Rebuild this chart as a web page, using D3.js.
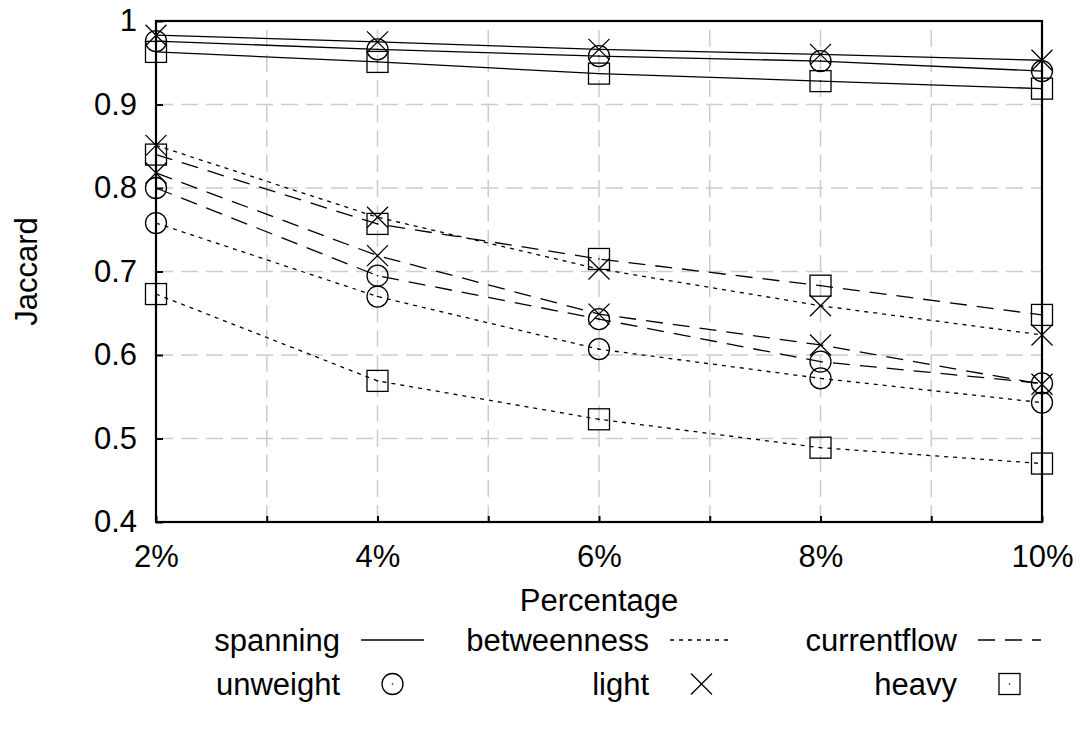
<!DOCTYPE html>
<html>
<head>
<meta charset="utf-8">
<script src="https://cdn.jsdelivr.net/npm/d3@7"></script>
<style>
  html, body { margin: 0; padding: 0; background: #fff; }
  svg { display: block; }
  text { font-family: "Liberation Sans", Arial, Helvetica, sans-serif; fill: #000; }
</style>
</head>
<body>
<svg id="chart" width="1081" height="738"></svg>
<script>
// ---- data ----
const percentages = [2, 4, 6, 8, 10];
const xTickValues = [2, 3, 4, 5, 6, 7, 8, 9, 10];
const yTickValues = [0.4, 0.5, 0.6, 0.7, 0.8, 0.9, 1.0];
const yTickLabels = ["0.4", "0.5", "0.6", "0.7", "0.8", "0.9", "1"];

const spanningUnweight = [0.976, 0.966, 0.958, 0.952, 0.940];
const spanningLight    = [0.983, 0.975, 0.966, 0.960, 0.953];
const spanningHeavy    = [0.963, 0.951, 0.937, 0.928, 0.919];

const betweennessUnweight = [0.758, 0.670, 0.607, 0.572, 0.543];
const betweennessLight    = [0.851, 0.765, 0.703, 0.659, 0.624];
const betweennessHeavy    = [0.673, 0.569, 0.523, 0.489, 0.470];

const currentflowUnweight = [0.800, 0.695, 0.643, 0.592, 0.566];
const currentflowLight    = [0.818, 0.719, 0.649, 0.612, 0.565];
const currentflowHeavy    = [0.840, 0.757, 0.715, 0.683, 0.648];

const methodNames = ["spanning", "betweenness", "currentflow"];
const weightNames = ["unweight", "light", "heavy"];

const series = [
  { method: "spanning", weight: "unweight", values: spanningUnweight },
  { method: "spanning", weight: "light", values: spanningLight },
  { method: "spanning", weight: "heavy", values: spanningHeavy },
  { method: "betweenness", weight: "unweight", values: betweennessUnweight },
  { method: "betweenness", weight: "light", values: betweennessLight },
  { method: "betweenness", weight: "heavy", values: betweennessHeavy },
  { method: "currentflow", weight: "unweight", values: currentflowUnweight },
  { method: "currentflow", weight: "light", values: currentflowLight },
  { method: "currentflow", weight: "heavy", values: currentflowHeavy }
];

// ---- styles ----
const dashFor = { spanning: null, betweenness: "4,5", currentflow: "17,10" };
const FONT = 31;
const M = 10.5; // marker half size

const svg = d3.select("#chart");
const pL = 156, pR = 1042, pT = 21, pB = 522;

const x = d3.scaleLinear().domain([2, 10]).range([pL, pR]);
const y = d3.scaleLinear().domain([0.4, 1.0]).range([pB, pT]);

// grid
const grid = svg.append("g");
grid.selectAll("line.vg").data(xTickValues.slice(1, -1)).enter().append("line")
  .attr("x1", d => x(d)).attr("x2", d => x(d))
  .attr("y1", pB).attr("y2", pT)
  .attr("stroke", "#cccccc").attr("stroke-width", 1.5).attr("stroke-dasharray", "17,8");
grid.selectAll("line.hg").data(yTickValues.slice(1, -1)).enter().append("line")
  .attr("x1", pL).attr("x2", pR)
  .attr("y1", d => y(d)).attr("y2", d => y(d))
  .attr("stroke", "#cccccc").attr("stroke-width", 1.5).attr("stroke-dasharray", "17,8");

// axes
const yAxis = d3.axisLeft(y).tickValues(yTickValues)
  .tickFormat((d, i) => yTickLabels[i]).tickSizeInner(-7).tickSizeOuter(0).tickPadding(19);
const gy = svg.append("g").attr("transform", `translate(${pL},0)`).call(yAxis);
gy.select(".domain").remove();
gy.selectAll("line").attr("stroke", "#000").attr("stroke-width", 2);
gy.selectAll("text").style("font-size", FONT + "px").style("font-family", "'Liberation Sans', Arial, sans-serif");

const xAxis = d3.axisBottom(x).tickValues(xTickValues)
  .tickFormat(d => (d % 2 === 0 ? d + "%" : "")).tickSizeInner(-6).tickSizeOuter(0).tickPadding(23);
const gx = svg.append("g").attr("transform", `translate(0,${pB})`).call(xAxis);
gx.select(".domain").remove();
gx.selectAll("line").attr("stroke", "#000").attr("stroke-width", 2);
gx.selectAll("text").style("font-size", FONT + "px").style("font-family", "'Liberation Sans', Arial, sans-serif");

// border
svg.append("rect").attr("x", pL).attr("y", pT)
  .attr("width", pR - pL).attr("height", pB - pT)
  .attr("fill", "none").attr("stroke", "#000").attr("stroke-width", 2.2);

// axis titles
svg.append("text").attr("x", (pL + pR) / 2).attr("y", 611)
  .attr("text-anchor", "middle").style("font-size", FONT + "px").text("Percentage");
svg.append("text").attr("transform", `translate(37,${(pT + pB) / 2}) rotate(-90)`)
  .attr("text-anchor", "middle").style("font-size", FONT + "px").text("Jaccard");

// marker drawing
function drawMarker(g, type, cx, cy) {
  const s = g.append("g").attr("transform", `translate(${cx},${cy})`)
    .attr("fill", "none").attr("stroke", "#000").attr("stroke-width", 1.3);
  if (type === "unweight") {
    s.append("circle").attr("r", M);
  } else if (type === "light") {
    s.append("path").attr("d", `M${-M},${-M}L${M},${M}M${-M},${M}L${M},${-M}`);
  } else {
    s.append("rect").attr("x", -M).attr("y", -M).attr("width", 2 * M).attr("height", 2 * M);
  }
  s.append("circle").attr("r", 0.8).attr("fill", "#000").attr("stroke", "none");
}

const line = d3.line().x((d, i) => x(percentages[i])).y(d => y(d));
const plot = svg.append("g");
series.forEach(s => {
  plot.append("path").attr("d", line(s.values))
    .attr("fill", "none").attr("stroke", "#000").attr("stroke-width", 1.3)
    .attr("stroke-dasharray", dashFor[s.method]);
});
series.forEach(s => {
  s.values.forEach((v, i) => drawMarker(plot, s.weight, x(percentages[i]), y(v)));
});

// legend
const colRight = [340, 649, 957];
const row1 = 651, row2 = 695;
const sampleGap = 21, sampleLen = 63;
const lg = svg.append("g");
methodNames.forEach((m, i) => {
  lg.append("text").attr("x", colRight[i]).attr("y", row1).attr("text-anchor", "end")
    .style("font-size", FONT + "px").text(m);
  lg.append("line").attr("x1", colRight[i] + sampleGap).attr("x2", colRight[i] + sampleGap + sampleLen)
    .attr("y1", row1 - 11).attr("y2", row1 - 11)
    .attr("stroke", "#000").attr("stroke-width", 1.3).attr("stroke-dasharray", dashFor[m]);
});
weightNames.forEach((w, i) => {
  lg.append("text").attr("x", colRight[i]).attr("y", row2).attr("text-anchor", "end")
    .style("font-size", FONT + "px").text(w);
  drawMarker(lg, w, colRight[i] + sampleGap + sampleLen / 2, row2 - 11);
});
</script>
</body>
</html>
